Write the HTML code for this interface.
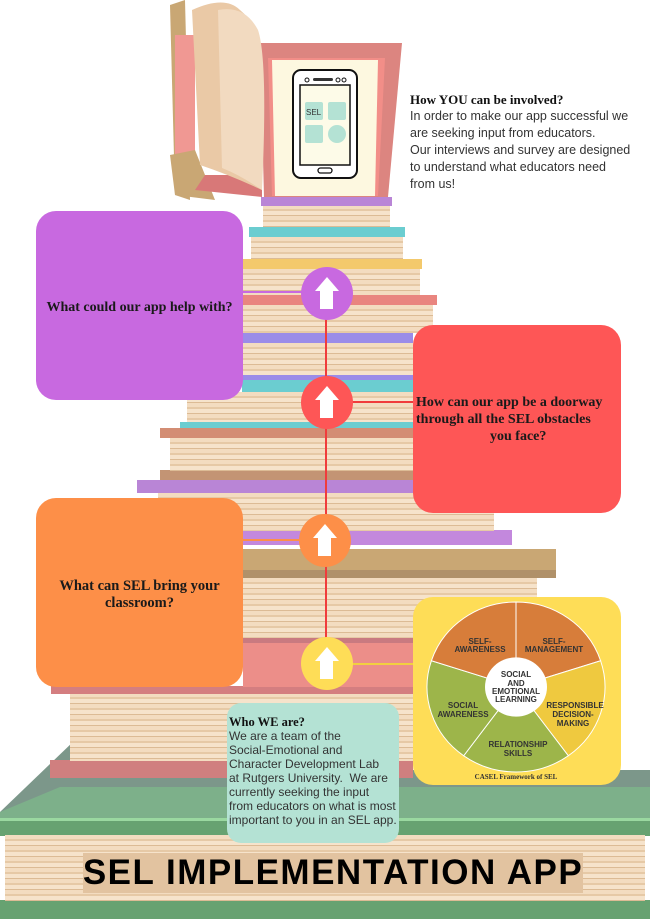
<!DOCTYPE html>
<html><head><meta charset="utf-8">
<style>
*{margin:0;padding:0;box-sizing:border-box}
body{width:650px;height:919px;position:relative;background:#fff;overflow:hidden;font-family:"Liberation Sans",sans-serif}
.a{position:absolute}
.pg{position:absolute;background:repeating-linear-gradient(180deg,#f3dcc0 0 4px,#e6c9a6 4px 6px,#f6e3cb 6px 10px,#dcbb95 10px 11px)}
.box{position:absolute;border-radius:20px}
.q{font-family:"Liberation Serif",serif;font-weight:bold;font-size:14px;color:#1a1a1a}
.circ{position:absolute;width:52px;height:53px;border-radius:50%}
.circ:after{content:"";position:absolute;left:19px;top:23px;width:13px;height:19px;background:#fff}
.circ:before{content:"";position:absolute;left:14px;top:10px;border-left:12px solid transparent;border-right:12px solid transparent;border-bottom:14px solid #fff}
.t{position:absolute;font-size:12.5px;color:#333;line-height:17px}
.w{font-family:"Liberation Sans",sans-serif;font-size:8px;font-weight:bold;fill:#333;text-anchor:middle}
</style></head><body>

<svg class="a" style="left:0;top:0" width="650" height="919">
 <polygon points="75,740 413,740 413,770 650,770 650,812 0,812" fill="#7c978a"/>
 <polygon points="60,787 650,787 650,820 0,820 0,812" fill="#7db08a"/>
 <rect x="0" y="818" width="650" height="3" fill="#9ad8a0"/>
 <rect x="0" y="821" width="650" height="15" fill="#67a271"/>
 <rect x="0" y="900" width="650" height="19" fill="#67a271"/>
</svg>
<div class="pg" style="left:5px;top:835px;width:640px;height:66px"></div>
<div class="a" style="left:83px;top:853px;width:500px;height:40px;background:#e2c3a0"></div>

<div class="a" style="left:50px;top:760px;width:363px;height:18px;background:#d07f7f"></div>
<div class="pg" style="left:70px;top:693px;width:347px;height:68px"></div>
<div class="a" style="left:51px;top:686px;width:362px;height:8px;background:#d47e80"></div>
<div class="a" style="left:243px;top:637px;width:170px;height:50px;background:#ec8e89"></div>
<div class="a" style="left:243px;top:637px;width:170px;height:6px;background:#c97a80"></div>
<div class="pg" style="left:243px;top:578px;width:294px;height:60px"></div>
<div class="a" style="left:243px;top:549px;width:313px;height:21px;background:#c9a774"></div>
<div class="a" style="left:243px;top:570px;width:313px;height:8px;background:#b0916a"></div>
<div class="a" style="left:243px;top:530px;width:269px;height:15px;background:#c388dd"></div>
<div class="pg" style="left:158px;top:493px;width:336px;height:38px"></div>
<div class="a" style="left:137px;top:480px;width:276px;height:13px;background:#b985d6"></div>
<div class="a" style="left:160px;top:470px;width:253px;height:10px;background:#c39474"></div>
<div class="pg" style="left:170px;top:438px;width:243px;height:33px"></div>
<div class="a" style="left:160px;top:428px;width:253px;height:10px;background:#d38d74"></div>
<div class="a" style="left:180px;top:422px;width:233px;height:6px;background:#6bcdd0"></div>
<div class="pg" style="left:187px;top:392px;width:226px;height:30px"></div>
<div class="a" style="left:242px;top:375px;width:171px;height:5px;background:#9b8ce8"></div>
<div class="a" style="left:242px;top:380px;width:171px;height:12px;background:#6bcdd0"></div>
<div class="pg" style="left:243px;top:343px;width:170px;height:32px"></div>
<div class="a" style="left:243px;top:333px;width:170px;height:10px;background:#9b8ce8"></div>
<div class="pg" style="left:243px;top:305px;width:190px;height:28px"></div>
<div class="a" style="left:243px;top:295px;width:194px;height:10px;background:#e9857f"></div>
<div class="pg" style="left:243px;top:269px;width:177px;height:26px"></div>
<div class="a" style="left:243px;top:259px;width:179px;height:10px;background:#f3c96c"></div>
<div class="pg" style="left:251px;top:237px;width:152px;height:22px"></div>
<div class="a" style="left:249px;top:227px;width:156px;height:10px;background:#6bcdd0"></div>
<div class="pg" style="left:263px;top:205px;width:127px;height:22px"></div>
<div class="a" style="left:261px;top:197px;width:131px;height:9px;background:#b985d6"></div>

<svg class="a" style="left:0;top:0" width="650" height="210">
 <polygon points="260,43 402,43 388,197 264,197" fill="#dc8580"/>
 <polygon points="268,58 385,58 378,196 272,196" fill="#f28e88"/>
 <polygon points="272,60 378,60 375,196 275,196" fill="#fdf8e0"/>
 <polygon points="170,5 185,0 190,200 175,195" fill="#c9a774"/>
 <polygon points="175,35 195,35 195,160 175,160" fill="#f09893"/>
 <polygon points="170,155 195,150 215,200 175,195" fill="#c9a774"/>
 <polygon points="195,190 262,197 262,175 205,175" fill="#d87878"/>
 <path d="M192,10 Q225,-5 240,10 Q265,30 262,80 L262,190 Q230,175 200,165 Z" fill="#eac9a6"/>
 <path d="M218,10 Q245,5 258,30 Q268,60 262,190 Q240,175 222,168 Z" fill="#f2dac0"/>
 <rect x="293" y="70" width="64" height="108" rx="8" fill="#fff" stroke="#111" stroke-width="2"/>
 <rect x="300" y="85" width="50" height="80" fill="#fdfbe8" stroke="#111" stroke-width="1.5"/>
 <rect x="313" y="78" width="20" height="3" rx="1.5" fill="#333"/>
 <circle cx="307" cy="80" r="2" fill="none" stroke="#111"/><circle cx="338" cy="80" r="2" fill="none" stroke="#111"/><circle cx="344" cy="80" r="2" fill="none" stroke="#111"/>
 <rect x="318" y="168" width="14" height="5" rx="2.5" fill="none" stroke="#111" stroke-width="1.3"/>
 <rect x="305" y="102" width="18" height="18" rx="2" fill="#b4e2d4"/>
 <rect x="328" y="102" width="18" height="18" rx="2" fill="#b4e2d4"/>
 <rect x="305" y="125" width="18" height="18" rx="2" fill="#b4e2d4"/>
 <circle cx="337" cy="134" r="9" fill="#b4e2d4"/>
 <text x="306" y="115" font-family="Liberation Sans" font-size="8" fill="#333">SEL</text>
</svg>

<div class="t" style="left:410px;top:91px;width:240px">
<div style="font-family:'Liberation Serif',serif;font-weight:bold;font-size:13px;color:#111">How YOU can be involved?</div>
In order to make our app successful we<br>are seeking input from educators.<br>Our interviews and survey are designed<br>to understand what educators need<br>from us!</div>

<div class="a" style="left:325px;top:314px;width:2px;height:330px;background:#f03c3c"></div>
<div class="a" style="left:243px;top:291px;width:60px;height:2px;background:#c869e0"></div>
<div class="a" style="left:350px;top:401px;width:63px;height:2px;background:#f03c3c"></div>
<div class="a" style="left:243px;top:539px;width:60px;height:2px;background:#fd8f48"></div>
<div class="a" style="left:350px;top:663px;width:63px;height:2px;background:#f2cf40"></div>

<div class="circ" style="left:301px;top:267px;background:#c869e0"></div>
<div class="circ" style="left:301px;top:376px;background:#fe5656"></div>
<div class="circ" style="left:299px;top:514px;background:#fd8f48"></div>
<div class="circ" style="left:301px;top:637px;background:#fedd57"></div>

<div class="box q" style="left:36px;top:211px;width:207px;height:189px;background:#c869e0;display:flex;align-items:center;justify-content:center;padding-top:4px">What could our app help with?</div>
<div class="box q" style="left:413px;top:325px;width:208px;height:188px;background:#fe5656;padding:69px 0 0 3px;line-height:17px">How can our app be a doorway<br>through all the SEL obstacles<br><span style="padding-left:74px">you face?</span></div>
<div class="box q" style="left:36px;top:498px;width:207px;height:189px;background:#fd8f48;text-align:center;padding-top:80px;line-height:17px;font-size:14.5px">What can SEL bring your<br>classroom?</div>
<div class="box" style="left:413px;top:597px;width:208px;height:188px;background:#fedd57"></div>
<div class="box" style="left:227px;top:703px;width:172px;height:140px;background:#b4e2d4;border-radius:14px"></div>
<div class="t" style="left:229px;top:715px;font-size:12px;line-height:14px;width:170px">
<div style="font-family:'Liberation Serif',serif;font-weight:bold;font-size:12.5px;color:#111">Who WE are?</div>
We are a team of the<br>Social-Emotional and<br>Character Development Lab<br>at Rutgers University.&nbsp; We are<br>currently seeking the input<br>from educators on what is most<br>important to you in an SEL app.</div>

<svg class="a" style="left:0;top:0" width="650" height="919">
 <g transform="translate(516,687) scale(1,0.955)">
  <path d="M0,0 L0,-89 A89,89 0 0 1 84.6,-27.5 Z" fill="#d77d3a" stroke="#fff" stroke-width="1"/>
  <path d="M0,0 L84.6,-27.5 A89,89 0 0 1 52.3,72 Z" fill="#efc93f" stroke="#fff" stroke-width="1"/>
  <path d="M0,0 L52.3,72 A89,89 0 0 1 -52.3,72 Z" fill="#9db54a" stroke="#fff" stroke-width="1"/>
  <path d="M0,0 L-52.3,72 A89,89 0 0 1 -84.6,-27.5 Z" fill="#9db54a" stroke="#fff" stroke-width="1"/>
  <path d="M0,0 L-84.6,-27.5 A89,89 0 0 1 0,-89 Z" fill="#d77d3a" stroke="#fff" stroke-width="1"/>
  <circle r="31" fill="#fff"/>
 </g>
 <text class="w" x="480" y="644">SELF-</text><text class="w" x="480" y="652">AWARENESS</text>
 <text class="w" x="554" y="644">SELF-</text><text class="w" x="554" y="652">MANAGEMENT</text>
 <text class="w" x="516" y="677">SOCIAL</text><text class="w" x="516" y="686">AND</text><text class="w" x="516" y="694">EMOTIONAL</text><text class="w" x="516" y="702">LEARNING</text>
 <text class="w" x="463" y="708">SOCIAL</text><text class="w" x="463" y="717">AWARENESS</text>
 <text class="w" x="575" y="708">RESPONSIBLE</text><text class="w" x="573" y="717">DECISION-</text><text class="w" x="573" y="726">MAKING</text>
 <text class="w" x="518" y="747">RELATIONSHIP</text><text class="w" x="518" y="756">SKILLS</text>
 <text x="516" y="779" font-family="Liberation Serif" font-size="7" font-weight="bold" fill="#333" text-anchor="middle">CASEL Framework of SEL</text>
</svg>

<div class="a" style="left:73px;top:851px;width:520px;text-align:center;font-family:'Liberation Sans',sans-serif;font-weight:bold;font-size:35px;color:#000;letter-spacing:1.5px;line-height:44px;white-space:nowrap">SEL IMPLEMENTATION APP</div>
</body></html>
